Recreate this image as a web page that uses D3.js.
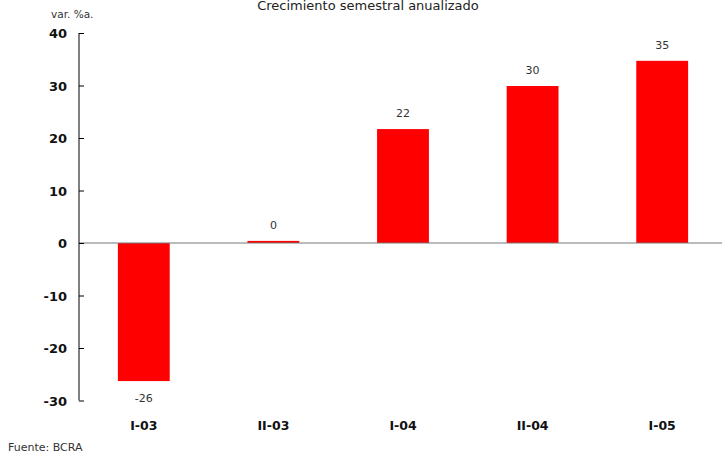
<!DOCTYPE html>
<html>
<head>
<meta charset="utf-8">
<script src="https://cdn.jsdelivr.net/npm/d3@7"></script>
<style>
	body { margin: 0; background: #fff; }
	svg { display: block; font-family: "DejaVu Sans", sans-serif; }
</style>
</head>
<body>
<svg id="chart" width="722" height="451"></svg>
<script>
const categories = ['I-03', 'II-03', 'I-04', 'II-04', 'I-05'];
const values = [-26.3, 0.4, 21.7, 29.9, 34.7];
const valueLabels = ['-26', '0', '22', '30', '35'];
const yTicks = [-30, -20, -10, 0, 10, 20, 30, 40];

const svg = d3.select('#chart');
const plotLeft = 79, plotRight = 722, plotTop = 33, plotBottom = 400.5;

// the band layout runs a little past the right edge, like the original
const x = d3.scaleBand()
	.domain(categories)
	.range([plotLeft, 727])
	.paddingInner(0.6)
	.paddingOuter(0.3);

const y = d3.scaleLinear()
	.domain([-30, 40])
	.range([plotBottom, plotTop]);

// title (cut at top in the original)
svg.append('text')
	.attr('x', 368).attr('y', 10)
	.attr('text-anchor', 'middle')
	.attr('font-size', 13).attr('fill', '#222')
	.text('Crecimiento semestral anualizado');

svg.append('text')
	.attr('x', 51).attr('y', 18)
	.attr('font-size', 10.5).attr('fill', '#333')
	.text('var. %a.');

// bars
svg.selectAll('rect.bar')
	.data(values)
	.enter()
	.append('rect')
	.attr('class', 'bar')
	.attr('x', (d, i) => x(categories[i]))
	.attr('width', x.bandwidth())
	.attr('y', d => y(Math.max(0, d)))
	.attr('height', d => Math.abs(y(d) - y(0)))
	.attr('fill', '#ff0000');

// zero line
svg.append('line')
	.attr('x1', plotLeft).attr('x2', plotRight)
	.attr('y1', y(0)).attr('y2', y(0))
	.attr('stroke', '#777').attr('stroke-width', 1);

// y axis
const yAxis = d3.axisRight(y).tickValues(yTicks).tickSize(5).tickFormat('');
const gy = svg.append('g')
	.attr('transform', 'translate(' + plotLeft + ',0)')
	.call(yAxis);
gy.select('.domain').attr('d', 'M0,' + plotTop + 'V' + plotBottom).attr('stroke', '#000');
gy.selectAll('.tick line').attr('stroke', '#000');

svg.selectAll('text.ylab')
	.data(yTicks)
	.enter()
	.append('text')
	.attr('class', 'ylab')
	.attr('x', 67)
	.attr('y', d => y(d) + 5)
	.attr('text-anchor', 'end')
	.attr('font-size', 13).attr('font-weight', 'bold').attr('fill', '#111')
	.text(d => d);

// value labels
svg.selectAll('text.vlab')
	.data(values)
	.enter()
	.append('text')
	.attr('class', 'vlab')
	.attr('x', (d, i) => x(categories[i]) + x.bandwidth() / 2)
	.attr('y', d => d >= 0 ? y(d) - 12 : y(d) + 21)
	.attr('text-anchor', 'middle')
	.attr('font-size', 11).attr('fill', '#333')
	.text((d, i) => valueLabels[i]);

// category labels
svg.selectAll('text.xlab')
	.data(categories)
	.enter()
	.append('text')
	.attr('class', 'xlab')
	.attr('x', d => x(d) + x.bandwidth() / 2)
	.attr('y', 430)
	.attr('text-anchor', 'middle')
	.attr('font-size', 12.5).attr('font-weight', 'bold').attr('fill', '#111')
	.text(d => d);

svg.append('text')
	.attr('x', 8).attr('y', 451)
	.attr('font-size', 11).attr('fill', '#333')
	.text('Fuente: BCRA');
</script>
</body>
</html>
